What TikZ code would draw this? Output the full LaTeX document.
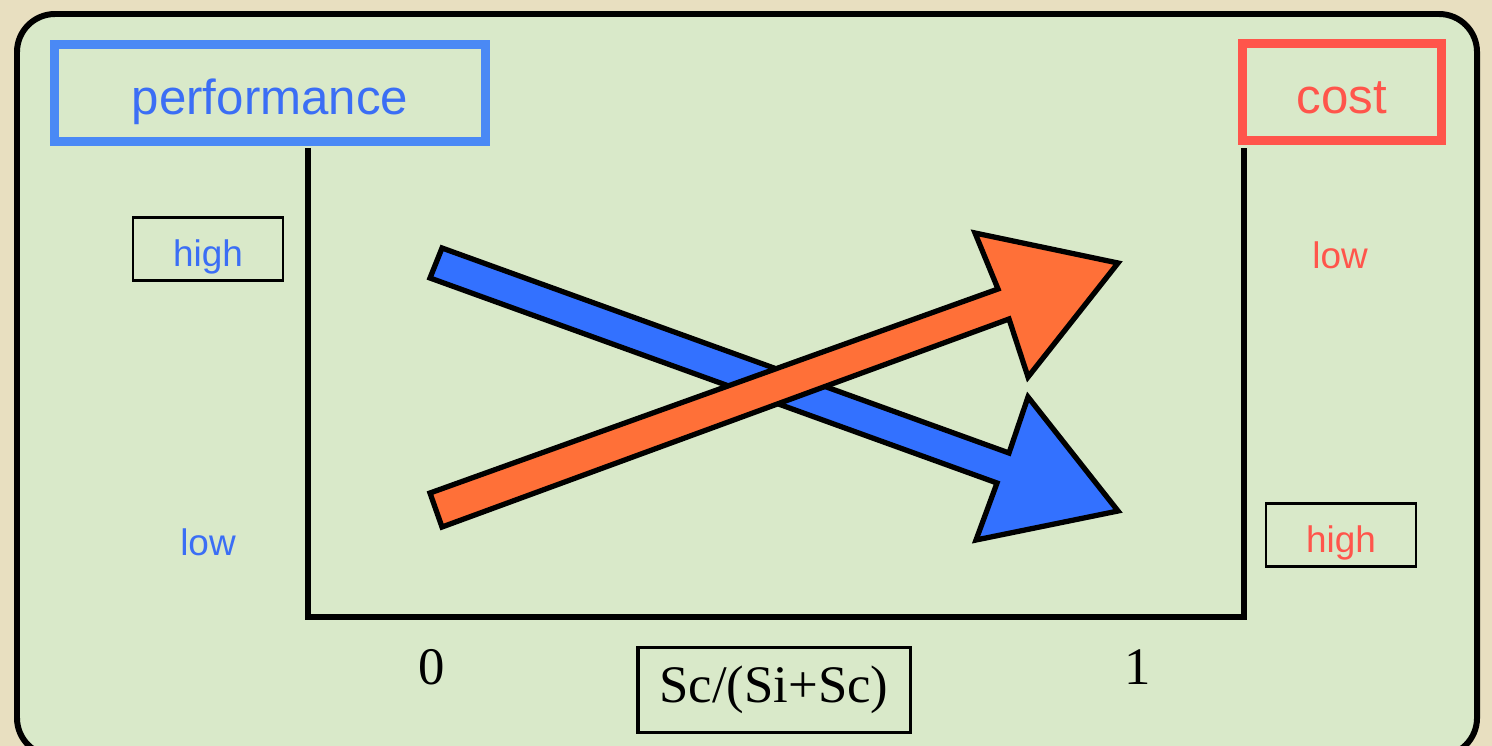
\documentclass[tikz,border=0pt]{standalone}
\usepackage{fontspec}
\setmainfont{Liberation Serif}
\setsansfont{Liberation Sans}
\usetikzlibrary{positioning}

\definecolor{paper}{RGB}{232,223,192}
\definecolor{panel}{RGB}{217,233,201}
\definecolor{perfblue}{RGB}{59,110,245}
\definecolor{boxblue}{RGB}{74,137,245}
\definecolor{costred}{RGB}{255,85,75}
\definecolor{arrowblue}{RGB}{51,113,255}
\definecolor{arroworange}{RGB}{255,112,56}

\begin{document}
\begin{tikzpicture}[
		x=0.01cm, y=-0.01cm,
		stamp/.style={draw, line width=2.5pt, minimum height=0.97cm, inner sep=0pt,
			text height=0.45cm, text depth=0.02cm,
			font=\sffamily\fontsize{14}{16}\selectfont},
		level/.style={inner sep=0pt, minimum width=1.5cm, minimum height=0.63cm,
			text height=0.36cm, text depth=0.02cm,
			font=\sffamily\fontsize{10.5}{12}\selectfont},
		levelbox/.style={level, draw, line width=0.7pt},
		axisnum/.style={inner sep=2pt, font=\fontsize{15}{17}\selectfont},
		bigarrow/.style={draw, line width=1.5pt, line join=miter}
		]
		
		\useasboundingbox (0,0) rectangle (1492,746);
		
		% Paper and panel
		\fill[paper] (0,0) rectangle (1492,746);
		\draw[fill=panel, line width=1.7pt, rounded corners=0.38cm] (17,14) rectangle (1477,756);
		
		% Title stamps
		\node[stamp, draw=boxblue, text=perfblue, minimum width=4.3cm] (perf) at (270,93) {performance};
		\node[stamp, draw=costred, text=costred, minimum width=1.99cm] (cost) at (1342,92) {cost};
		
		% Axes
		\coordinate (ytop) at (308,148);
		\coordinate (origin) at (308,617);
		\coordinate (xend) at (1244,617);
		\coordinate (ctop) at (1244,148);
		\draw[line width=1.8pt, line join=miter] (ytop) -- (origin) -- (xend) -- (ctop);
		
		% Levels
		\node[levelbox, text=perfblue] (perfhigh) at (208,249) {high};
		\node[level, text=perfblue] (perflow) at (208,538) {low};
		\node[level, text=costred] (costlow) at (1340,251) {low};
		\node[levelbox, text=costred] (costhigh) at (1341,535) {high};
		
		% x axis
		\node[axisnum] (zero) at (432,667) {0};
		\node[axisnum] (one) at (1138,667) {1};
		\node[axisnum, draw, line width=0.9pt, minimum width=2.72cm, minimum height=0.85cm] (ratio) at (774,690) {Sc/(Si+Sc)};
		
		% Performance goes down
		\draw[bigarrow, fill=arrowblue] (442,248) -- (1009,453) -- (1028,397) -- (1118,511)
			-- (976,540) -- (997,483) -- (430,278) -- cycle;
		
		% Cost goes up
		\draw[bigarrow, fill=arroworange] (430,493) -- (998,289) -- (975,233) -- (1118,263)
			-- (1028,377) -- (1009,319) -- (442,527) -- cycle;
		
	\end{tikzpicture}
\end{document}
